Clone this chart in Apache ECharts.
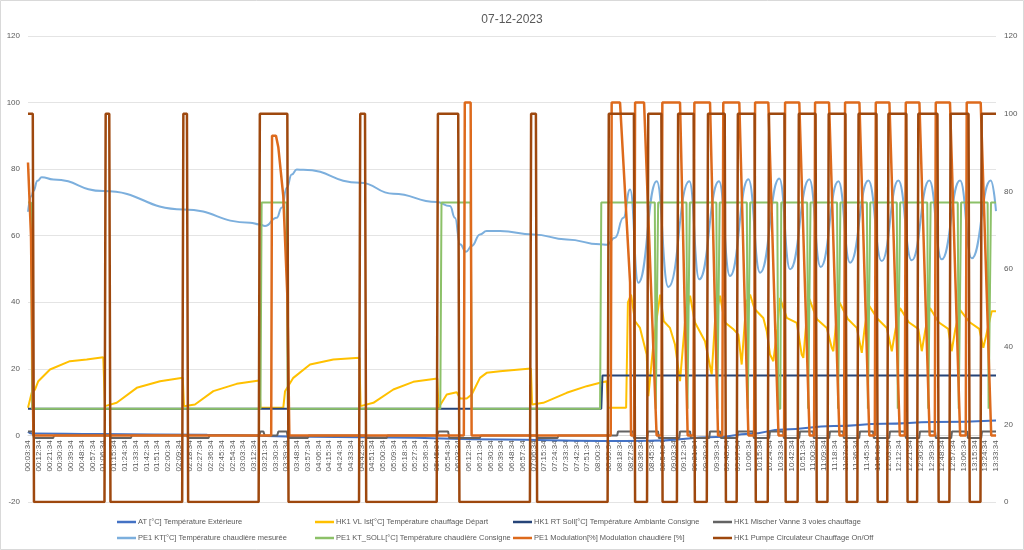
<!DOCTYPE html>
<html>
<head>
<meta charset="utf-8">
<script src="https://cdn.jsdelivr.net/npm/echarts@6/dist/echarts.min.js"></script>
<style>
html,body{margin:0;padding:0;background:#fff;}
#chart{width:1024px;height:550px;}
</style>
</head>
<body>
<div id="chart"></div>
<script>
// x values are minutes elapsed since 00:03:34
const tickLabels = ["00:03:34","00:12:34","00:21:34","00:30:34","00:39:34","00:48:34","00:57:34",
"01:06:34","01:15:34","01:24:34","01:33:34","01:42:34","01:51:34",
"02:00:34","02:09:34","02:18:34","02:27:34","02:36:34","02:45:34","02:54:34",
"03:03:34","03:12:34","03:21:34","03:30:34","03:39:34","03:48:34","03:57:34",
"04:06:34","04:15:34","04:24:34","04:33:34","04:42:34","04:51:34",
"05:00:34","05:09:34","05:18:34","05:27:34","05:36:34","05:45:34","05:54:34",
"06:03:34","06:12:34","06:21:34","06:30:34","06:39:34","06:48:34","06:57:34",
"07:06:34","07:15:34","07:24:34","07:33:34","07:42:34","07:51:34",
"08:00:34","08:09:34","08:18:34","08:27:34","08:36:34","08:45:34","08:54:34",
"09:03:34","09:12:34","09:21:34","09:30:34","09:39:34","09:48:34","09:57:34",
"10:06:34","10:15:34","10:24:34","10:33:34","10:42:34","10:51:34",
"11:00:34","11:09:34","11:18:34","11:27:34","11:36:34","11:45:34","11:54:34",
"12:03:34","12:12:34","12:21:34","12:30:34","12:39:34","12:48:34","12:57:34",
"13:06:34","13:15:34","13:24:34","13:33:34"];

const seriesNames = [
"AT [°C] Température Extérieure",
"HK1 VL Ist[°C] Température chauffage Départ",
"HK1 RT Soll[°C] Température Ambiante Consigne",
"HK1 Mischer Vanne 3 voies chauffage",
"PE1 KT[°C] Température chaudière mesurée",
"PE1 KT_SOLL[°C] Température chaudière Consigne",
"PE1 Modulation[%] Modulation chaudiére [%]",
"HK1 Pumpe Circulateur Chauffage On/Off"
];

const atTemp = [[0,1.1],[3,0.6],[60,0.4],[150,0.2],[216,-0.3],[300,-0.6],[395,-1.2],[479,-1.7],[520,-1.6],[576,-0.5],[604,0.5],[632,1.8],[674,2.8],[716,3.5],[758,4.0],[810,4.5]];

const vlIst = [[0,8.3],[3.1,12.8],[5.9,13.8],[8.6,16.3],[18.4,19.8],[35.1,22.3],[49.1,22.8],[63,23.5],[64.4,8.8],[74.2,9.8],[91,14.3],[110.5,16.3],[129.5,17.3],[130.5,8.8],[139.7,9.3],[155.1,13.3],[174.6,15.5],[193.5,16.5],[194.5,8.3],[213.6,8.3],[215.1,13.3],[222,17.3],[236,21.3],[255.5,22.8],[277.3,23.3],[278.3,8.8],[289,9.8],[305.7,13.8],[322.4,16.1],[342.5,17.1],[343.5,8.3],[350.4,12.3],[358.7,13],[361.5,11.1],[367.1,11.1],[371.3,12.3],[378.2,17.3],[383.8,18.8],[395,19.3],[420.8,20.1],[421.8,9.3],[431.2,9.8],[450.8,12.8],[467.5,14.8],[478.7,15.8],[484.3,16.3],[485.5,8.3],[500.5,8.3],[502,40],[504.6,42.3],[508,34.3],[512.1,32.3],[517.7,24.3],[519.1,11.8],[524,30],[529,42.3],[532,34.3],[537.2,32.3],[541.4,27.3],[545.6,16.3],[550,35],[554,42],[558,34],[566.5,28.3],[572.1,18.3],[575,35],[579.1,42],[583,34],[590,32],[594.4,30.3],[597.2,21.3],[601,40],[604.2,42.3],[608,38],[615.3,35.3],[618.2,31.3],[620.9,24.3],[623.7,22.3],[627,32],[629.3,41.3],[634.9,35.3],[643.3,33.8],[647.4,24.3],[648.8,23.3],[651,33],[653.8,41],[660,35],[668.4,32.3],[672.6,26.3],[673.9,25.3],[676,33],[679,40],[686,35],[693.5,32.3],[697.7,24.8],[700,32],[703.2,39.3],[711,35],[718.6,32.3],[722.8,25.3],[726,32],[729.7,38.3],[737,34],[745,32],[747.9,25.3],[751,32],[754.8,38.3],[762,34],[770,32],[772.9,25.3],[776,32],[779.9,37.7],[788,34],[796,32],[799.4,26.3],[803,32],[806.4,37.3],[810,37.3]];

const rtSoll = [[0,8],[479.7,8],[480.7,18],[810,18]];

const mischer = [[0,1.2],[4,1.2],[5,-0.8],[21,-0.8],[22,0],[68.5,0],[69.5,-0.8],[86,-0.8],[87,0],[133,0],[134,-0.8],[151,-0.8],[152,0],[193.5,0],[194.5,1.2],[197,1.2],[198,0],[208.5,0],[209.5,1.2],[216.5,1.2],[217.5,-0.8],[234,-0.8],[235,0],[282.5,0],[283.5,-0.8],[300,-0.8],[301,0],[342.5,0],[343.5,1.2],[351.5,1.2],[352.5,-0.8],[378,-0.8],[379,0],[425.7,0],[426.7,-0.8],[443,-0.8],[444,0],[493,0],[493.7,1.2],[506.3,1.2],[507,-0.8],[518.1,-0.8],[518.8,1.2],[527.2,1.2],[527.9,-0.8],[544.9,-0.8],[545.6,1.2],[554,1.2],[554.7,-0.8],[570,-0.8],[570.7,1.2],[579.1,1.2],[579.8,-0.8],[593.4,-0.8],[594.1,1.2],[606.7,1.2],[607.4,-0.8],[620.2,-0.8],[620.9,1.2],[631.8,1.2],[632.5,-0.8],[645.3,-0.8],[646,1.2],[656.9,1.2],[657.6,-0.8],[670.4,-0.8],[671.1,1.2],[682,1.2],[682.7,-0.8],[695.5,-0.8],[696.2,1.2],[707.1,1.2],[707.8,-0.8],[720.6,-0.8],[721.3,1.2],[733.9,1.2],[734.6,-0.8],[745.7,-0.8],[746.4,1.2],[759,1.2],[759.7,-0.8],[772.5,-0.8],[773.2,1.2],[785.8,1.2],[786.5,-0.8],[797.6,-0.8],[798.3,1.2],[810,1.2]];

const ktIst = [[0,67.2],[3.1,72],[4.4,73.4],[8,76.5],[11.5,77.6],[21.2,76.9],[63,73.4],[130,67.9],[185.8,63.9],[193.6,63.4],[198.3,62.9],[208.1,65.4],[212.3,68.4],[216.5,74.4],[220.7,78.4],[224.9,79.9],[230.4,79.8],[277.8,75.9],[305.7,72.6],[342,70.1],[353.1,68.9],[357.3,65.4],[361.5,57.4],[366.5,55.2],[371.3,56.9],[378.2,60.4],[383.8,61.4],[395,61.4],[422.8,60.4],[450.8,58.9],[478.7,57.4],[484.3,57.3],[491.2,59.4],[498.2,65.4],[503.8,73.9],[510.7,45.9],[526.1,76.4],[535.8,44.6],[553.4,76.4],[561.7,46.9],[578.2,76.4],[587.4,47.9],[602.8,77],[612.6,48.9],[628.7,77.2],[637.7,49.9],[653.8,77],[663.3,50.6],[678.1,76.4],[687.9,51.9],[703.2,76.6],[714.4,52.4],[728.3,76.6],[739.5,52.6],[754.2,76.6],[764.6,52.9],[779.9,76.6],[789.7,53.2],[805.6,76.6],[810,67.4]];

const ktSoll = [[0,70],[2.5,70],[3.5,8],[194.5,8],[195.5,70],[216.4,70],[217.4,8],[345,8],[346,70],[370.4,70],[371.4,8],[478.7,8],[479.7,70],
[524.5,70],[525.3,8],[526.5,8],[527.3,70],
[551,70],[551.8,8],[553,8],[553.8,70],
[576,70],[576.8,8],[578,8],[578.8,70],
[601.5,70],[602.3,8],[603.5,8],[604.3,70],
[627,70],[627.8,8],[629.5,8],[630.3,70],
[652,70],[652.8,8],[654,8],[654.8,70],
[677,70],[677.8,8],[679,8],[679.8,70],
[702,70],[702.8,8],[704,8],[704.8,70],
[727,70],[727.8,8],[729,8],[729.8,70],
[752.5,70],[753.3,8],[754.5,8],[755.3,70],
[778,70],[778.8,8],[780,8],[780.8,70],
[803,70],[803.8,8],[805,8],[805.8,70],[810,70]];

const modulation = [[0,82],[2.5,60],[4.5,0],[203.5,0],[204.2,90],[207.5,90],[209.5,86.5],[213.6,72],[217,42],[218.7,0],[364.7,0],[365.5,100],[370.4,100],[371.2,0],[487.6,0],[488.4,100],[495.4,100],[503.8,46],[504.6,0],[507.2,0],[508,100],[515.5,100],[526,0],[530,0],[530.8,100],[545.6,100],[552,0],[556.8,0],[557.6,100],[570.7,100],[577.4,0],[581,0],[581.8,100],[595.2,100],[602.8,0],[607.6,0],[608.4,100],[619.5,100],[628,0],[632.7,0],[633.5,100],[645.4,100],[654,0],[657.8,0],[658.6,100],[670.3,100],[679,0],[682.9,0],[683.7,100],[695.7,100],[704,0],[708.6,0],[709.4,100],[720.8,100],[729.5,0],[733.7,0],[734.5,100],[745.9,100],[754.5,0],[758.8,0],[759.6,100],[771.5,100],[780,0],[784.7,0],[785.5,100],[797.2,100],[806,0],[810,0]];

const pump = [[0,100],[4,100],[5,0],[64,0],[65,100],[68,100],[69,0],[129,0],[130,100],[133,100],[134,0],[193,0],[194,100],[217,100],[218,0],[277,0],[278,100],[282,100],[283,0],[342,0],[343,100],[360,100],[361,0],[420,0],[421,100],[425,100],[426,0],[485,0],[486,100],[507,100],[508,0],[518,0],[519,100],[530,100],[531,0],[543,0],[544,100],[557,100],[558,0],[568,0],[569,100],[583,100],[584,0],[593,0],[594,100],[608,100],[609,0],[619,0],[620,100],[633,100],[634,0],[644,0],[645,100],[659,100],[660,0],[669,0],[670,100],[684,100],[685,0],[694,0],[695,100],[710,100],[711,0],[719,0],[720,100],[735,100],[736,0],[744,0],[745,100],[761,100],[762,0],[771,0],[772,100],[787,100],[788,0],[797,0],[798,100],[810,100]];

const colors = ['#4472C4','#FFC000','#264478','#636363','#7CAFDD','#8CC168','#DD6A1C','#9E480E'];

const FONT = 'Liberation Sans';
const chart = echarts.init(document.getElementById('chart'), null, {renderer:'canvas'});

function mk(i, data, yIdx, width, smooth) {
  return {
    name: seriesNames[i], type: 'line', data: data, yAxisIndex: yIdx,
    symbol: 'none', showSymbol: false, smooth: smooth || false,
    smoothMonotone: 'x',
    lineStyle: {color: colors[i], width: width},
    itemStyle: {color: colors[i]},
    emphasis: {disabled: true}
  };
}

// legend layout: 4 columns x 2 rows
const legendLeft = [117, 315, 513, 713];
const legendTop = [518, 534];
const legends = seriesNames.map(function (name, i) {
  return {
    left: legendLeft[i % 4], top: legendTop[Math.floor(i / 4)], padding: 0,
    data: [name], itemWidth: 19, itemHeight: 2.5, icon: 'rect', itemGap: 0,
    selectedMode: false,
    textStyle: {fontFamily: FONT, fontSize: 7.5, color: '#595959', padding: [0, 0, 0, -3]}
  };
});

chart.setOption({
  animation: false,
  backgroundColor: '#ffffff',
  title: {
    text: '07-12-2023', left: 'center', top: 9,
    textStyle: {fontFamily: FONT, fontSize: 12, fontWeight: 'normal', color: '#595959'}
  },
  legend: legends,
  grid: {left: 28, right: 28, top: 36, bottom: 48, containLabel: false},
  xAxis: {
    type: 'value', min: 0, max: 810, interval: 9,
    offset: -66.6,
    axisLine: {show: true, onZero: false, lineStyle: {color: '#D9D9D9'}},
    axisTick: {show: false},
    splitLine: {show: false},
    axisLabel: {
      rotate: 90, fontFamily: FONT, fontSize: 8, color: '#595959', margin: 5,
      showMinLabel: true, showMaxLabel: true,
      formatter: function (v) { const k = Math.round(v / 9); return tickLabels[k] || ''; }
    }
  },
  yAxis: [
    {type: 'value', min: -20, max: 120, interval: 20, position: 'left',
     axisLine: {show: false}, axisTick: {show: false},
     axisLabel: {fontFamily: FONT, fontSize: 8, color: '#595959', margin: 8},
     splitLine: {show: true, lineStyle: {color: '#E4E4E4', width: 1}}},
    {type: 'value', min: 0, max: 120, interval: 20, position: 'right',
     axisLine: {show: false}, axisTick: {show: false},
     axisLabel: {fontFamily: FONT, fontSize: 8, color: '#595959', margin: 8},
     splitLine: {show: false}}
  ],
  graphic: [{type: 'rect', shape: {x: 0.5, y: 0.5, width: 1023, height: 549},
    style: {fill: null, stroke: '#D9D9D9', lineWidth: 1}, silent: true}],
  series: [
    mk(0, atTemp, 0, 2, true),
    mk(1, vlIst, 0, 2, false),
    mk(2, rtSoll, 0, 2, false),
    mk(3, mischer, 0, 2, false),
    mk(4, ktIst, 0, 2, 0.5),
    mk(5, ktSoll, 0, 2, false),
    mk(6, modulation, 0, 2.5, false),
    mk(7, pump, 1, 2.5, false)
  ]
});
</script>
</body>
</html>
